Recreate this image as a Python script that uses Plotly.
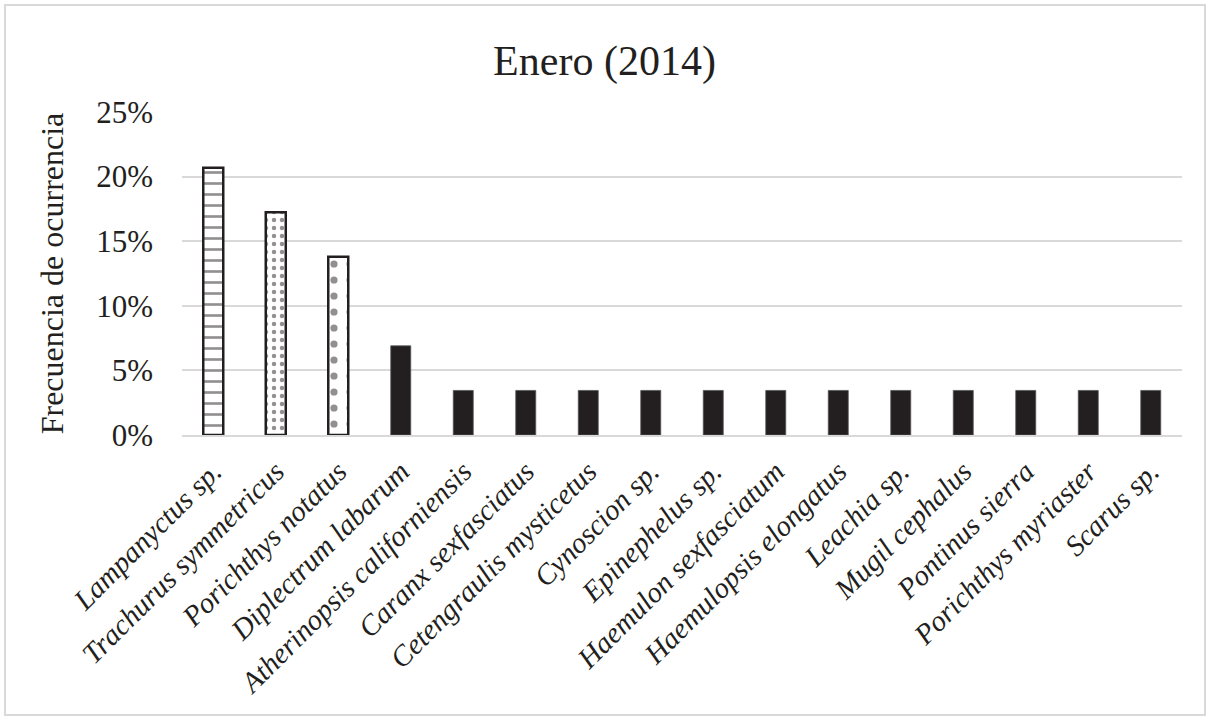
import plotly.graph_objects as go

# Species caught in January 2014 and their frequency of occurrence
species = [
    "Lampanyctus sp.", "Trachurus symmetricus", "Porichthys notatus",
    "Diplectrum labarum", "Atherinopsis californiensis", "Caranx sexfasciatus",
    "Cetengraulis mysticetus", "Cynoscion sp.", "Epinephelus sp.",
    "Haemulon sexfasciatum", "Haemulopsis elongatus", "Leachia sp.",
    "Mugil cephalus", "Pontinus sierra", "Porichthys myriaster", "Scarus sp.",
]
frequency = [0.2069, 0.1724, 0.1379, 0.0690] + [0.0345] * 12

y_ticks = [0, 0.05, 0.10, 0.15, 0.20, 0.25]
y_tick_labels = ["0%", "5%", "10%", "15%", "20%", "25%"]

DARK = "#231f20"
GRID = "#d9d9d9"
SERIF = "Liberation Serif"

labels = [f"<i>{s}</i>" for s in species]

# fill style per bar: pattern shape, spacing, solidity
styles = [
    ("-", 11, 0.24),
    (".", 8, 0.24),
    (".", 16, 0.16),
]

fig = go.Figure()
for i, (shape, size, solid) in enumerate(styles):
    fig.add_trace(
        go.Bar(
            x=[labels[i]],
            y=[frequency[i]],
            marker=dict(
                color="white",
                line=dict(color=DARK, width=2.5),
                pattern=dict(
                    shape=shape,
                    size=size,
                    solidity=solid,
                    fgcolor=DARK,
                    bgcolor="white",
                    fillmode="overlay",
                ),
            ),
        )
    )

fig.add_trace(
    go.Bar(
        x=labels[3:],
        y=frequency[3:],
        marker=dict(color=DARK, line=dict(color="#555555", width=0.8)),
    )
)

fig.update_layout(
    width=1209,
    height=721,
    margin=dict(l=182, r=27, t=112, b=286),
    paper_bgcolor="white",
    plot_bgcolor="white",
    barmode="overlay",
    bargap=0.68,
    showlegend=False,
    font=dict(family=SERIF, color=DARK),
    title=dict(
        text="Enero (2014)",
        x=0.5,
        xref="container",
        xanchor="center",
        y=1 - 60 / 721,
        yref="container",
        yanchor="middle",
        font=dict(size=42, family=SERIF, color=DARK),
    ),
    xaxis=dict(
        categoryorder="array",
        categoryarray=labels,
        tickangle=-45,
        tickfont=dict(size=29, family=SERIF, color=DARK),
        showgrid=False,
        showline=True,
        linecolor=GRID,
        linewidth=2,
        ticks="",
        ticklabelstandoff=6,
        automargin=False,
    ),
    yaxis=dict(
        range=[0, 0.25],
        tickvals=y_ticks,
        ticktext=y_tick_labels,
        tickfont=dict(size=31, family=SERIF, color=DARK),
        showgrid=True,
        gridcolor=GRID,
        gridwidth=1.5,
        zeroline=False,
        showline=False,
        ticks="",
        ticklabelstandoff=28,
        automargin=False,
        title=dict(
            text="Frecuencia de ocurrencia",
            font=dict(size=32, family=SERIF, color=DARK),
            standoff=22,
        ),
    ),
    shapes=[
        dict(
            type="rect",
            xref="paper",
            yref="paper",
            x0=(5 - 182) / 1000,
            x1=(1205 - 182) / 1000,
            y0=(435 - 715) / 323,
            y1=(435 - 5) / 323,
            line=dict(color=GRID, width=2),
            fillcolor="rgba(0,0,0,0)",
            layer="below",
        )
    ],
)

fig.write_html("out.html")
